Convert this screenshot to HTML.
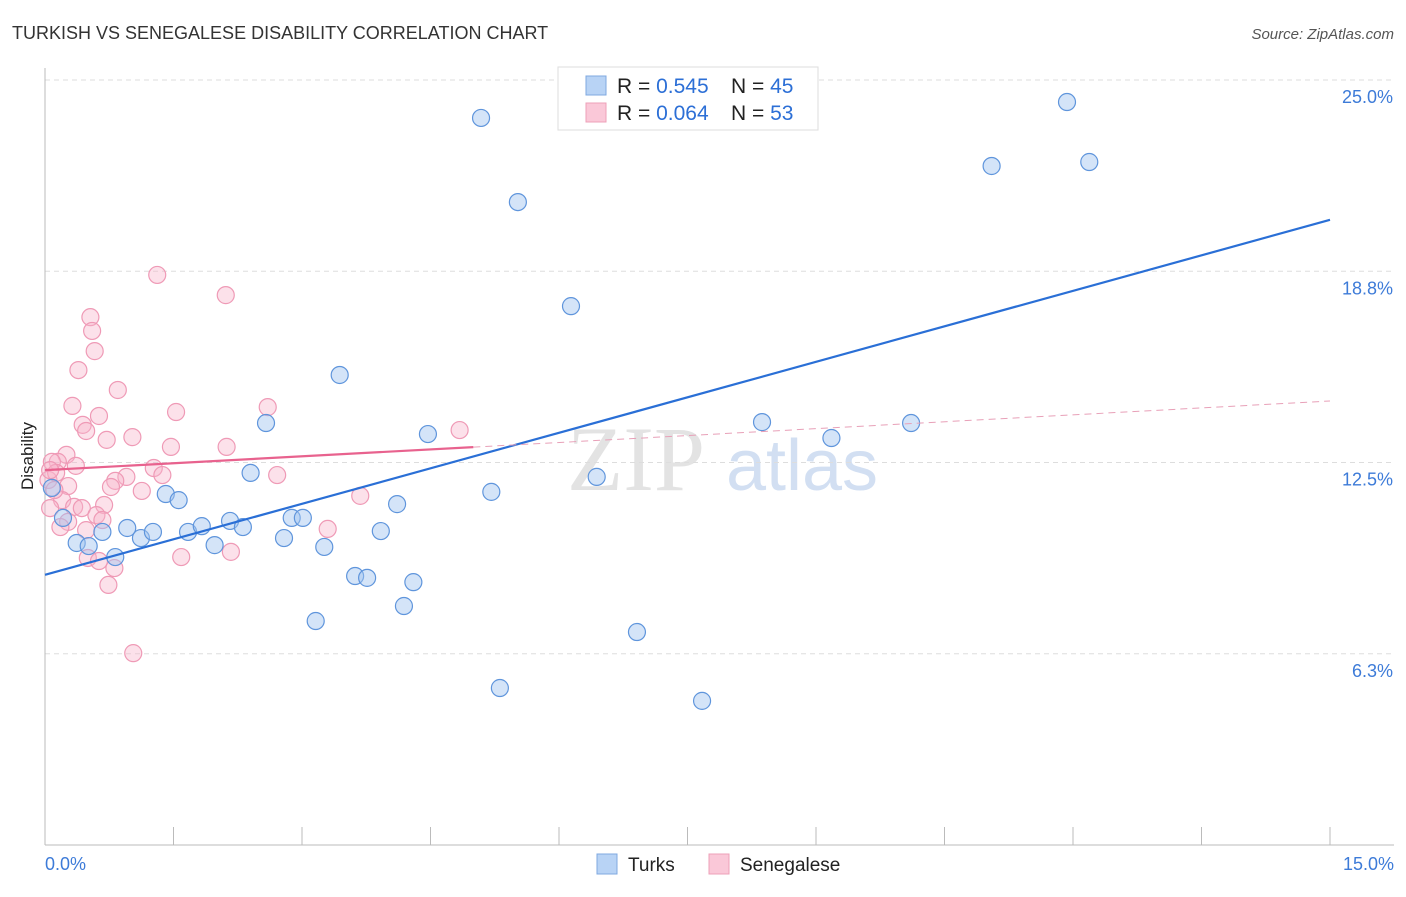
<!DOCTYPE html>
<html><head><meta charset="utf-8"><style>
body{margin:0;background:#fff;font-family:"Liberation Sans",sans-serif}
</style></head><body>
<svg width="1406" height="892" viewBox="0 0 1406 892" xmlns="http://www.w3.org/2000/svg">
<text x="12" y="39" font-size="18" fill="#333">TURKISH VS SENEGALESE DISABILITY CORRELATION CHART</text>
<text x="1394" y="39" font-size="15" fill="#555" font-style="italic" text-anchor="end">Source: ZipAtlas.com</text>
<g><text x="636" y="490" font-size="92" fill="#ddd" font-family="Liberation Serif" text-anchor="middle" opacity="0.8">ZIP</text><text x="802" y="490" font-size="72" fill="#c8d8f0" text-anchor="middle" opacity="0.8">atlas</text></g>
<g id="grid"></g><g id="axes"></g><g id="marks"></g><g id="trends"></g>
<text x="33" y="456" font-size="17" fill="#222" transform="rotate(-90 33 456)" text-anchor="middle">Disability</text>
<g>
<rect x="558" y="67" width="260" height="63" fill="#fff" stroke="#ddd"/>
<rect x="586" y="76" width="20" height="19" fill="#b8d3f5" stroke="#7fa8e0"/>
<rect x="586" y="103" width="20" height="19" fill="#fac8d8" stroke="#eea0b8"/>
<text x="617" y="93" font-size="21" fill="#222">R = <tspan fill="#2c6fd6">0.545</tspan></text>
<text x="731" y="93" font-size="21" fill="#222">N = <tspan fill="#2c6fd6">45</tspan></text>
<text x="617" y="120" font-size="21" fill="#222">R = <tspan fill="#2c6fd6">0.064</tspan></text>
<text x="731" y="120" font-size="21" fill="#222">N = <tspan fill="#2c6fd6">53</tspan></text>
</g>
<g>
<rect x="597" y="854" width="20" height="20" fill="#b8d3f5" stroke="#7fa8e0"/>
<text x="628" y="871" font-size="19" fill="#222">Turks</text>
<rect x="709" y="854" width="20" height="20" fill="#fac8d8" stroke="#eea0b8"/>
<text x="740" y="871" font-size="19" fill="#222">Senegalese</text>
</g>
</svg>
<script>
const yTicks=[6.25,12.5,18.75,25];
const yTickLabels=["6.3%","12.5%","18.8%","25.0%"];
const xTickLabels=["0.0%","15.0%"];
const turksX=[5.09,5.52,6.14,3.44,2.58,4.47,2.40,1.41,1.56,5.21,6.44,4.11,8.37,9.18,10.11,11.05,11.93,12.19,0.96,0.67,0.37,0.51,1.12,1.26,1.67,1.83,1.98,2.16,2.31,2.79,2.88,3.01,3.26,3.62,3.76,3.92,4.30,4.19,3.16,6.91,5.31,7.67,0.82,0.21,0.08];
const turksY=[23.76,21.01,17.61,15.36,13.79,13.43,12.16,11.47,11.27,11.54,12.03,11.14,13.82,13.30,13.79,22.19,24.28,22.32,10.36,10.23,9.87,9.77,10.03,10.23,10.23,10.42,9.80,10.59,10.39,10.03,10.69,10.69,9.74,8.79,8.73,10.26,8.59,7.81,7.32,6.96,5.13,4.71,9.41,10.69,11.67];
const senX=[1.31,2.11,0.53,0.55,0.58,0.39,0.85,0.32,0.63,1.53,2.60,4.84,0.44,0.48,0.72,1.02,1.47,2.12,0.25,0.15,0.36,1.27,1.37,0.95,2.71,0.82,0.77,0.27,1.13,3.68,0.20,0.34,0.43,0.06,0.69,0.60,0.67,0.27,0.18,0.48,3.30,1.59,2.17,0.50,0.63,0.81,0.74,1.03,0.08,0.04,0.13,0.06,0.11];
const senY=[18.63,17.97,17.25,16.80,16.14,15.52,14.87,14.35,14.02,14.15,14.31,13.56,13.73,13.53,13.24,13.33,13.01,13.01,12.75,12.52,12.39,12.32,12.09,12.03,12.09,11.90,11.70,11.73,11.57,11.41,11.27,11.05,11.01,11.01,11.11,10.78,10.62,10.56,10.39,10.29,10.33,9.41,9.58,9.38,9.28,9.05,8.50,6.27,12.52,11.93,12.16,12.25,11.60];
const turksTrend=[8.83,20.43];
const senTrend=[12.25,14.51];
const senSolidEnd=5.0;
const X0=45,X1=1330,Y0=845,Y1=80;
const sx=v=>X0+(v/15)*(X1-X0);
const sy=v=>Y0-(v/25)*(Y0-Y1);
const NS="http://www.w3.org/2000/svg";
function mk(tag,attrs,parent){const e=document.createElementNS(NS,tag);for(const k in attrs)e.setAttribute(k,attrs[k]);document.getElementById(parent).appendChild(e);return e;}
yTicks.forEach((t,i)=>{
 const l=mk('line',{x1:X0,x2:1394,y1:sy(t),y2:sy(t),stroke:'#ddd','stroke-dasharray':'5,4'},'grid');
 
 
 const tx=mk('text',{x:1393,y:sy(t)+23,'font-size':18,fill:'#3d7bd8','text-anchor':'end'},'grid');
 tx.textContent=yTickLabels[i];
 
 
});
const ax=mk('line',{x1:X0,x2:X0,y1:68,y2:Y0,stroke:'#bbb'},'axes');


const bx=mk('line',{x1:X0,x2:1394,y1:Y0,y2:Y0,stroke:'#bbb'},'axes');


for(let i=0;i<=10;i++){
 const t=mk('line',{x1:sx(i*1.5),x2:sx(i*1.5),y1:Y0-18,y2:Y0,stroke:'#bbb'},'axes');
 
 
}
[[0,'start',45],[15,'end',1394]].forEach((a,i)=>{
 const t=mk('text',{x:a[2],y:870,'font-size':18,fill:'#3d7bd8','text-anchor':a[1]},'axes');
 t.textContent=xTickLabels[i];
 
 
});
senX.forEach((v,i)=>{
 const c=mk('circle',{cx:sx(v),cy:sy(senY[i]),r:8.5,fill:'rgba(248,180,202,0.4)',stroke:'#ef9ab6','stroke-width':1.2},'marks');
 
 
});
turksX.forEach((v,i)=>{
 const c=mk('circle',{cx:sx(v),cy:sy(turksY[i]),r:8.5,fill:'rgba(160,196,240,0.45)',stroke:'#5f95dc','stroke-width':1.2},'marks');
 
 
});
const tl=mk('line',{x1:sx(0),y1:sy(turksTrend[0]),x2:sx(15),y2:sy(turksTrend[1]),stroke:'#2a6fd6','stroke-width':2.2},'trends');


const py=v=>senTrend[0]+(senTrend[1]-senTrend[0])*v/15;
const sl=mk('line',{x1:sx(0),y1:sy(senTrend[0]),x2:sx(senSolidEnd),y2:sy(py(senSolidEnd)),stroke:'#e8628e','stroke-width':2.2},'trends');


const sd=mk('line',{x1:sx(senSolidEnd),y1:sy(py(senSolidEnd)),x2:sx(15),y2:sy(senTrend[1]),stroke:'#e8a0b8','stroke-width':1,'stroke-dasharray':'7,5'},'trends');


</script>
</body></html>
